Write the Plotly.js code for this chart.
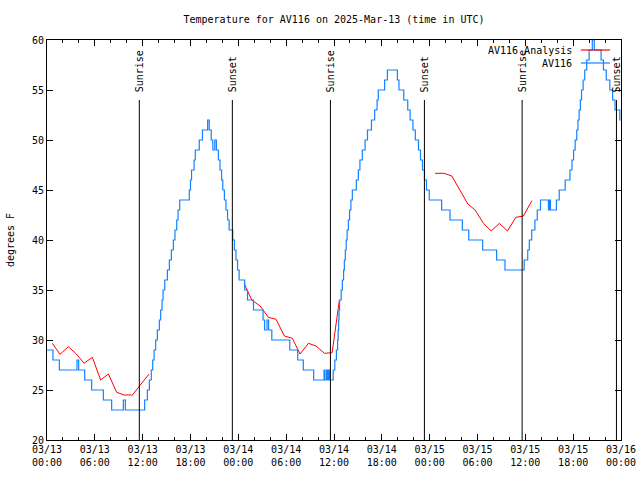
<!DOCTYPE html>
<html>
<head>
<meta charset="utf-8">
<script src="https://cdn.plot.ly/plotly-3.0.1.min.js"></script>
<style>
  html, body { margin: 0; padding: 0; background: #fff; }
  #chart { width: 640px; height: 480px; }
</style>
</head>
<body>
<div id="chart"></div>
<script>
// Hours since 2025-03-13 00:00 UTC
const obsHours = [0.0,0.75,1.55,3.76,3.97,4.73,5.6,7.07,8.11,9.58,9.83,12.25,12.59,12.84,13.08,13.26,13.43,13.63,13.84,14.09,14.26,14.43,14.55,14.77,15.1,15.35,15.6,15.85,16.05,16.27,16.44,16.65,17.85,18.0,18.13,18.45,18.6,19.1,19.5,20.15,20.35,20.6,20.8,21.05,21.25,21.5,21.7,21.9,22.05,22.25,22.45,22.65,22.85,23.3,23.5,23.7,23.9,24.1,24.8,25.15,25.9,27.1,27.3,27.6,27.8,28.2,30.45,31.45,32.15,33.45,34.75,34.85,35.05,35.15,35.3,35.45,35.9,36.1,36.3,36.45,36.52,36.58,36.63,36.7,36.9,37.05,37.2,37.3,37.42,37.53,37.65,37.8,37.95,38.12,38.3,38.8,39.05,39.25,39.55,39.9,40.2,40.7,41.1,41.4,41.55,42.35,42.7,43.95,44.15,44.75,45.25,45.55,45.9,46.2,46.6,46.85,47.1,47.35,47.6,47.95,49.5,50.55,52.1,52.9,54.65,56.4,57.45,59.85,60.3,60.5,60.8,61.2,61.5,61.9,62.9,63.05,63.15,63.9,64.25,65.0,65.6,65.85,66.05,66.25,66.45,66.6,66.75,66.9,67.05,67.25,67.45,67.7,68.0,68.4,68.65,69.5,69.8,70.15,70.6,70.95,71.25,71.85,71.95];
const obsTemps = [29,28,27,28,27,26,25,24,23,24,23,24,25,26,27,28,29,30,31,32,33,34,35,36,37,38,39,40,41,42,43,44,45,46,47,48,49,50,51,52,51,50,49,50,49,48,47,46,45,44,43,42,41,40,39,38,37,36,35,34,33,32,31,32,31,30,29,28,27,26,27,26,27,26,27,26,27,28,29,30,31,32,33,34,35,36,37,38,39,40,41,42,43,44,45,46,47,48,49,50,51,52,53,54,55,56,57,56,55,54,53,52,51,50,49,48,47,46,45,44,43,42,41,40,39,38,37,38,39,40,41,42,43,44,43,44,43,44,45,46,47,48,49,50,51,52,53,54,55,56,57,58,59,60,59,58,57,56,55,54,53,52,52];

const anaHours = [0.67,1.63,2.68,3.68,4.64,5.69,6.73,7.7,8.74,9.66,10.71,11.75,12.8,null,
                  24.72,25.68,26.73,27.77,28.73,29.78,30.78,31.74,32.79,33.75,34.8,35.76,36.68,null,
                  48.68,49.81,50.78,51.82,52.79,53.7,54.74,55.71,56.75,57.75,58.81,59.76,60.82];
const anaTemps = [29.67,28.57,29.33,28.6,27.67,28.27,26.0,26.6,24.77,24.5,24.5,25.6,26.6,null,
                  35.67,34.0,33.4,32.27,32.07,30.4,30.17,28.6,29.67,29.4,28.67,28.73,34.0,null,
                  46.67,46.67,46.4,45.0,43.6,43.0,41.67,40.9,41.67,40.9,42.27,42.4,43.93];

const sunriseHours = [11.58, 35.55, 59.6];
const sunsetHours = [23.25, 47.34, 71.43];

const xTickVals = [0,6,12,18,24,30,36,42,48,54,60,66,72];
const xTickText = ["03/13<br>00:00","03/13<br>06:00","03/13<br>12:00","03/13<br>18:00",
                   "03/14<br>00:00","03/14<br>06:00","03/14<br>12:00","03/14<br>18:00",
                   "03/15<br>00:00","03/15<br>06:00","03/15<br>12:00","03/15<br>18:00",
                   "03/16<br>00:00"];
const seriesNames = ["AV116 Analysis", "AV116"];

const BLUE = "rgb(20,130,255)";
const RED = "rgb(255,0,0)";
const FONT = "DejaVu Sans Mono";

const traces = [
  { x: anaHours, y: anaTemps, name: seriesNames[0], mode: "lines",
    line: { color: RED, width: 1 }, connectgaps: false, showlegend: false },
  { x: obsHours, y: obsTemps, name: seriesNames[1], mode: "lines",
    line: { color: BLUE, width: 1.2, shape: "hv" }, showlegend: false }
];

const shapes = [];
const annotations = [];
function sunMark(t, label) {
  shapes.push({ type: "line", xref: "x", yref: "y", x0: t, x1: t, y0: 20, y1: 54,
                line: { color: "black", width: 1 } });
  annotations.push({ x: t, y: 54, xref: "x", yref: "y", text: label, textangle: -90,
                     showarrow: false, xanchor: "center", yanchor: "bottom", yshift: 6,
                     font: { family: FONT, size: 10, color: "black" } });
}
sunriseHours.forEach(t => sunMark(t, "Sunrise"));
sunsetHours.forEach(t => sunMark(t, "Sunset"));

// manual legend (text right, sample line on the right)
const legendRows = [{ name: seriesNames[0], color: RED, w: 1.2, y: 0.975 },
                    { name: seriesNames[1], color: BLUE, w: 1.2, y: 0.9425 }];
legendRows.forEach(r => {
  annotations.push({ xref: "paper", yref: "paper", x: 0.918, y: r.y, text: r.name,
                     showarrow: false, xanchor: "right", yanchor: "middle",
                     font: { family: FONT, size: 10, color: "black" } });
  shapes.push({ type: "line", xref: "paper", yref: "paper", x0: 0.930, x1: 0.981,
                y0: r.y, y1: r.y, line: { color: r.color, width: r.w } });
});

const layout = {
  width: 640, height: 480,
  margin: { l: 47, r: 19, t: 40, b: 40, pad: 0 },
  paper_bgcolor: "white", plot_bgcolor: "white",
  font: { family: FONT, size: 10, color: "black" },
  title: { text: "Temperature for AV116 on 2025-Mar-13 (time in UTC)",
           x: 0.5, xref: "paper", xanchor: "center", y: 0.96, yref: "container", yanchor: "middle",
           font: { family: FONT, size: 10, color: "black" } },
  xaxis: {
    range: [0, 72], tickmode: "array", tickvals: xTickVals, ticktext: xTickText,
    ticks: "inside", ticklen: 6, tickwidth: 1, tickcolor: "black",
    showline: true, linecolor: "black", linewidth: 1, mirror: "ticks",
    showgrid: false, zeroline: false, automargin: false,
    minor: { tickmode: "linear", tick0: 0, dtick: 2, ticks: "inside", ticklen: 3,
             tickwidth: 1, tickcolor: "black", showgrid: false },
    tickfont: { family: FONT, size: 10, color: "black" }
  },
  yaxis: {
    range: [20, 60], tickmode: "linear", tick0: 20, dtick: 5,
    ticks: "inside", ticklen: 6, tickwidth: 1, tickcolor: "black",
    showline: true, linecolor: "black", linewidth: 1, mirror: "ticks",
    showgrid: false, zeroline: false, automargin: false,
    title: { text: "degrees F", standoff: 15, font: { family: FONT, size: 10, color: "black" } },
    tickfont: { family: FONT, size: 10, color: "black" }
  },
  shapes: shapes,
  annotations: annotations,
  showlegend: false
};

Plotly.newPlot("chart", traces, layout, { staticPlot: true, displayModeBar: false });
</script>
</body>
</html>
